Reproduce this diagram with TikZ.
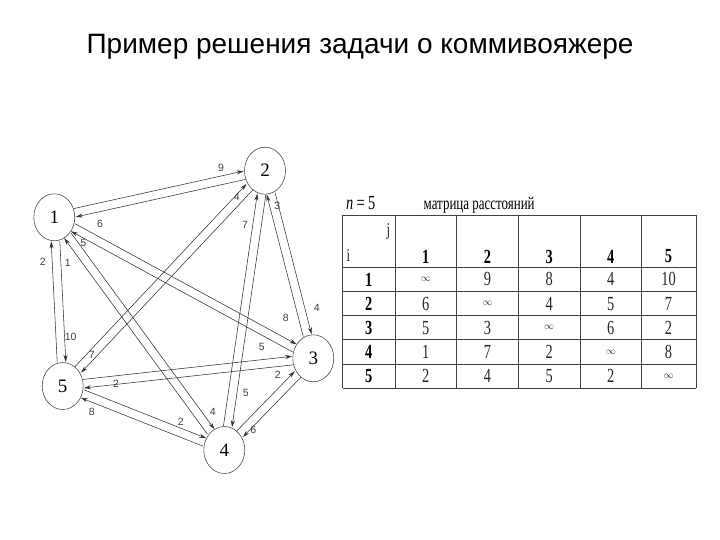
\documentclass[tikz,border=0pt]{standalone}
\usepackage{fontspec}
\setmainfont{Liberation Serif}
\newfontfamily\titlefont{Liberation Sans}
\newfontfamily\labfont{Liberation Sans}
\newfontfamily\condfont[FakeStretch=0.72]{Liberation Serif}
\usetikzlibrary{arrows.meta,shapes.geometric}

\newcommand{\inft}{\raisebox{-4pt}{\fontsize{10}{10}\selectfont$\infty$}}

\tikzset{
  vert/.style={draw=black!70, line width=0.6pt, ellipse, minimum width=41pt, minimum height=47pt, inner sep=0pt, font=\fontsize{19}{19}\selectfont},
  arr/.style={draw=black!80, line width=0.55pt, -{Stealth[length=7pt,width=4pt]}},
  wlab/.style={font=\labfont\fontsize{10.5}{10.5}\selectfont, text=black!75, inner sep=0pt},
  tline/.style={draw=black!75, line width=0.8pt},
  cell/.style={font=\condfont\fontsize{20}{20}\selectfont, text=black!85, inner sep=0pt},
  hcell/.style={font=\condfont\bfseries\fontsize{20}{20}\selectfont, text=black, inner sep=0pt},
}

\newcommand{\dedge}[2]{%
  \pgfmathanglebetweenpoints{\pgfpointanchor{#1}{center}}{\pgfpointanchor{#2}{center}}%
  \edef\myang{\pgfmathresult}%
  \draw[arr, transform canvas={shift={(\myang+90:4.3pt)}}] (#1) -- (#2);%
}

\begin{document}
\begin{tikzpicture}[x=1pt,y=-1pt]
\useasboundingbox (0,0) rectangle (720,540);

% title
\node[font=\titlefont\fontsize{28}{28}\selectfont, anchor=base] (title) at (360,53.3) {Пример решения задачи о коммивояжере};

% graph vertices
\node[vert] (v1) at (54.3,217.3) {1};
\node[vert] (v2) at (265,170.7) {2};
\node[vert] (v3) at (313.3,358.3) {3};
\node[vert] (v4) at (224.3,450) {4};
\node[vert] (v5) at (62.7,386) {5};

% directed edges
\dedge{v1}{v2} \dedge{v2}{v1}
\dedge{v1}{v3} \dedge{v3}{v1}
\dedge{v1}{v4} \dedge{v4}{v1}
\dedge{v1}{v5} \dedge{v5}{v1}
\dedge{v2}{v3} \dedge{v3}{v2}
\dedge{v2}{v4} \dedge{v4}{v2}
\dedge{v2}{v5} \dedge{v5}{v2}
\dedge{v3}{v4} \dedge{v4}{v3}
\dedge{v3}{v5} \dedge{v5}{v3}
\dedge{v4}{v5} \dedge{v5}{v4}

% edge weights
\node[wlab] (w12) at (221,168.3) {9};
\node[wlab] (w52) at (236.7,196.7) {4};
\node[wlab] (w21) at (100,224.3) {6};
\node[wlab] (w42) at (245,225) {7};
\node[wlab] (w32) at (277.3,205.7) {3};
\node[wlab] (w31) at (83.3,243.3) {5};
\node[wlab] (w51) at (42.7,261.7) {2};
\node[wlab] (w41) at (67.7,262.7) {1};
\node[wlab] (w23) at (316.7,308.3) {4};
\node[wlab] (w13) at (285.7,318.3) {8};
\node[wlab] (w15) at (70.7,337.3) {10};
\node[wlab] (w25) at (91.7,355) {7};
\node[wlab] (w53) at (261.7,346.7) {5};
\node[wlab] (w35) at (116,384.3) {2};
\node[wlab] (w43) at (277.7,375) {2};
\node[wlab] (w24) at (245.7,393.3) {5};
\node[wlab] (w45) at (91.7,411.7) {8};
\node[wlab] (w54) at (180.7,421.7) {2};
\node[wlab] (w14) at (212.7,411.7) {4};
\node[wlab] (w34) at (253.3,430) {6};

% matrix caption
\node[anchor=base west, inner sep=0pt, font=\condfont\fontsize{20}{20}\selectfont] (nlab) at (346,210) {\textit{n}\,=\,5};
\node[anchor=base west, inner sep=0pt, font=\condfont\fontsize{18}{18}\selectfont] (mlab) at (423.5,210) {матрица расстояний};

% table grid
\foreach \x in {342.5,395,456.7,518.3,580,641.7,696} \draw[tline] (\x,215.5) -- (\x,388);
\foreach \y in {215.5,267.3,291.5,315.7,339.8,364,388} \draw[tline] (342.5,\y) -- (696,\y);

% header cell
\node[cell, font=\condfont\fontsize{18}{18}\selectfont] (hj) at (388.3,231.7) {j};
\node[cell, font=\condfont\fontsize{18}{18}\selectfont] (hi) at (348.5,256) {i};
\foreach \c/\x in {1/425.8,2/487.5,3/549.2,4/610.8,5/668.5}
  \node[hcell] (col\c) at (\x,256.5) {\c};

% rows
\foreach [count=\r] \y/\row in {279.4/{\inft,9,8,4,10},303.6/{6,\inft,4,5,7},327.7/{5,3,\inft,6,2},351.9/{1,7,2,\inft,8},376/{2,4,5,2,\inft}} {
  \node[hcell] (row\r) at (368.8,\y) {\r};
  \foreach [count=\c] \v in \row {
    \pgfmathsetmacro{\cx}{{425.8,487.5,549.2,610.8,668.5}[\c-1]}
    \node[cell] (m\r\c) at (\cx,\y) {\v};
  }
}
\end{tikzpicture}
\end{document}
